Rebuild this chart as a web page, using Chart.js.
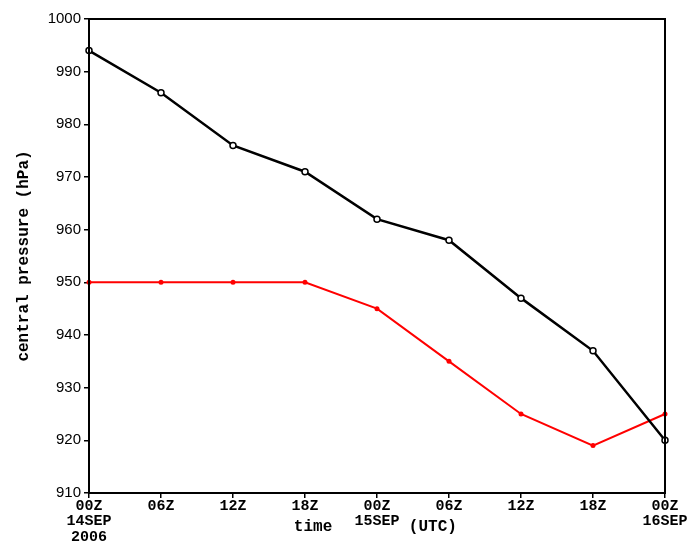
<!DOCTYPE html>
<html>
<head>
<meta charset="utf-8">
<script src="https://cdn.jsdelivr.net/npm/chart.js@4/dist/chart.umd.min.js"></script>
<style>
  html, body { margin: 0; padding: 0; background: #fff; }
  #wrap { width: 691px; height: 550px; position: relative; }
</style>
</head>
<body>
<div id="wrap"><canvas id="c" width="691" height="550"></canvas></div>
<script>
const categories = [
  ["00Z", "14SEP", "2006"], "06Z", "12Z", "18Z",
  ["00Z", "15SEP"], "06Z", "12Z", "18Z", ["00Z", "16SEP"]
];
const blackSeries = [994, 986, 976, 971, 962, 958, 947, 937, 920];
const redSeries = [950, 950, 950, 950, 945, 935, 925, 919, 925];
const yTicks = [910, 920, 930, 940, 950, 960, 970, 980, 990, 1000];
const yTitle = "central pressure (hPa)";
const xTitleLeft = "time";
const xTitleRight = "(UTC)";

const frame = {
  id: 'frame',
  afterDraw(chart) {
    const ctx = chart.ctx, a = chart.chartArea;
    ctx.save();
    ctx.strokeStyle = '#000';
    ctx.lineWidth = 2;
    ctx.strokeRect(a.left, a.top, a.right - a.left, a.bottom - a.top);
    ctx.fillStyle = '#000';
    ctx.font = 'bold 16px "Liberation Mono"';
    ctx.textAlign = 'center';
    ctx.textBaseline = 'middle';
    const w = a.right - a.left;
    ctx.fillText(xTitleLeft, a.left + w * 0.389, 527);
    ctx.fillText(xTitleRight, a.left + w * 0.597, 527);
    ctx.restore();
  }
};

new Chart(document.getElementById('c'), {
  type: 'line',
  data: {
    labels: categories,
    datasets: [
      {
        data: blackSeries,
        borderColor: '#000',
        borderWidth: 2.5,
        pointRadius: 3,
        pointBorderWidth: 1.5,
        pointBorderColor: '#000',
        pointBackgroundColor: '#fff',
        tension: 0
      },
      {
        data: redSeries,
        borderColor: '#ff0000',
        borderWidth: 2,
        pointRadius: 2.5,
        pointBorderWidth: 0,
        pointBackgroundColor: '#ff0000',
        tension: 0
      }
    ]
  },
  options: {
    responsive: false,
    animation: false,
    layout: { padding: { top: 19, right: 26, left: 0, bottom: 0 } },
    plugins: { legend: { display: false }, tooltip: { enabled: false } },
    scales: {
      x: {
        offset: false,
        grid: { drawOnChartArea: false, drawTicks: true, tickLength: 5, color: '#000', lineWidth: 1.5 },
        border: { display: true, color: '#000', width: 2 },
        ticks: {
          color: '#000',
          maxRotation: 0,
          autoSkip: false,
          padding: 0,
          font: { family: '"Liberation Mono"', size: 15, weight: 'bold', lineHeight: 1.05 }
        },
        afterFit(s) { s.height = 57; }
      },
      y: {
        min: yTicks[0],
        max: yTicks[yTicks.length - 1],
        afterBuildTicks(s) { s.ticks = yTicks.map(v => ({ value: v })); },
        grid: { drawOnChartArea: false, drawTicks: true, tickLength: 5, color: '#000', lineWidth: 1.5 },
        border: { display: true, color: '#000', width: 2 },
        ticks: {
          color: '#000',
          padding: 3,
          callback: v => String(v),
          font: { family: '"Liberation Sans"', size: 15 }
        },
        title: {
          display: true,
          text: yTitle,
          color: '#000',
          padding: { top: 14, bottom: 0 },
          font: { family: '"Liberation Mono"', size: 16, weight: 'bold' }
        },
        afterFit(s) { s.width = 89; }
      }
    }
  },
  plugins: [frame]
});
</script>
</body>
</html>
